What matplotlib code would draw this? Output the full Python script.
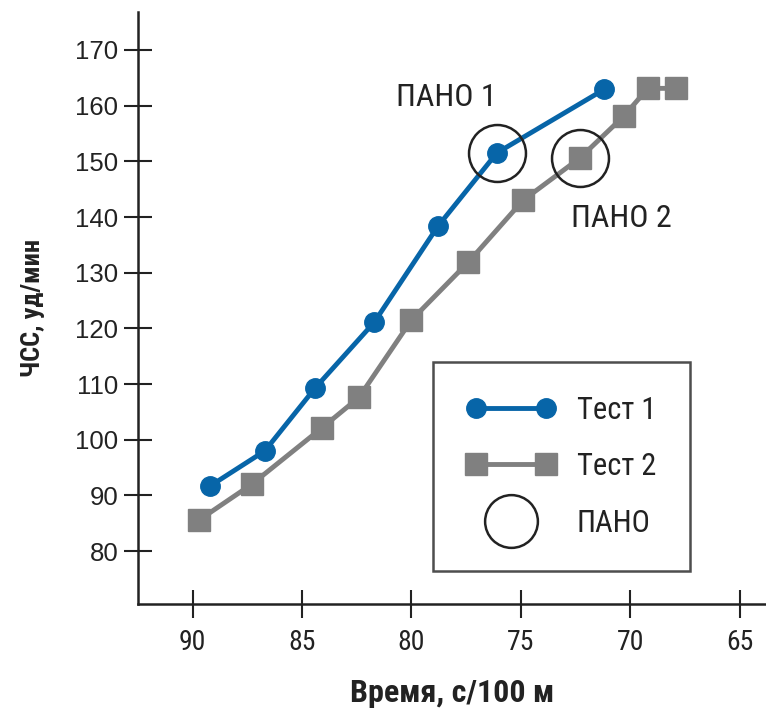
import matplotlib
matplotlib.use("Agg")
import matplotlib.pyplot as plt
from matplotlib.lines import Line2D
from matplotlib.legend_handler import HandlerLine2D
from matplotlib import font_manager as fm

# Data
test1_x = [89.2, 86.7, 84.4, 81.7, 78.8, 76.1, 71.2]
test1_y = [91.7, 98.0, 109.3, 121.1, 138.3, 151.5, 162.9]
test2_x = [89.7, 87.3, 84.1, 82.4, 80.0, 77.4, 74.9, 72.3, 70.3, 69.2, 67.9]
test2_y = [85.6, 92.0, 102.1, 107.6, 121.5, 131.9, 143.0, 150.6, 158.1, 163.1, 163.1]
pano_x = [76.1, 72.3]
pano_y = [151.5, 150.6]
pano_labels = ["ПАНО 1", "ПАНО 2"]
legend_labels = ["Тест 1", "Тест 2", "ПАНО"]
xticks = [90, 85, 80, 75, 70, 65]
yticks = [80, 90, 100, 110, 120, 130, 140, 150, 160, 170]

BLUE = "#0765a8"
GRAY = "#808080"
DARK = "#222222"

installed = set(f.name for f in fm.fontManager.ttflist)
cands = ["Roboto Condensed", "PT Sans Narrow", "Liberation Sans Narrow", "Fira Sans Condensed",
         "IBM Plex Sans Condensed", "Open Sans Condensed", "Archivo Narrow", "Encode Sans Condensed",
         "Ubuntu Condensed", "Pragati Narrow", "Roboto"]
narrow = next((c for c in cands if c in installed), "DejaVu Sans")
NARROW = [narrow, "DejaVu Sans"]

fig = plt.figure(figsize=(7.66, 7.09), dpi=100)
ax = fig.add_axes([0.180, 0.148, 0.820, 0.835])

ax.plot(test2_x, test2_y, color=GRAY, lw=3.5, marker="s", ms=16, mec=GRAY, mfc=GRAY, zorder=3)
ax.plot(test1_x, test1_y, color=BLUE, lw=3.5, marker="o", ms=14, mec=BLUE, mfc=BLUE, zorder=4)
ax.plot(pano_x, pano_y, ls="none", marker="o", ms=41, mfc="none", mec=DARK, mew=1.8, zorder=5)

ax.text(78.4, 161.5, pano_labels[0], fontsize=23, family=NARROW, color=DARK,
        ha="center", va="center")
ax.text(70.4, 139.8, pano_labels[1], fontsize=23, family=NARROW, color=DARK,
        ha="center", va="center")

ax.set_xlim(92.5, 63.8)
ax.set_ylim(70.5, 176.8)
ax.set_xticks(xticks)
ax.set_yticks(yticks)
ax.set_xticklabels([str(t) for t in xticks], family=NARROW, fontsize=20, color=DARK)
ax.set_yticklabels([str(t) for t in yticks], family=["Liberation Sans", "DejaVu Sans"], fontsize=18.5, color=DARK)
ax.tick_params(axis="both", direction="inout", length=20, width=1.5, color=DARK)
ax.tick_params(axis="x", pad=8)
ax.tick_params(axis="y", pad=4)

for s in ["top", "right"]:
    ax.spines[s].set_visible(False)
for s in ["left", "bottom"]:
    ax.spines[s].set_linewidth(1.8)
    ax.spines[s].set_color(DARK)

ax.set_xlabel("Время, с/100 м", family=NARROW, fontsize=23, fontweight="bold", labelpad=16, color=DARK)
ax.set_ylabel("ЧСС, уд/мин", family=NARROW, fontsize=19, fontweight="bold", labelpad=22, color=DARK)

handles = [
    Line2D([], [], color=BLUE, lw=3.5, marker="o", ms=14, mec=BLUE, mfc=BLUE),
    Line2D([], [], color=GRAY, lw=3.5, marker="s", ms=16, mec=GRAY, mfc=GRAY),
    Line2D([], [], ls="none", marker="o", ms=38, mfc="none", mec=DARK, mew=1.8),
]
leg = fig.legend(handles, legend_labels, loc="upper left",
                 bbox_to_anchor=(433 / 766, 1 - 362 / 709), bbox_transform=fig.transFigure,
                 prop={"family": NARROW, "size": 22}, frameon=True, fancybox=False,
                 edgecolor=DARK, handlelength=2.9, handletextpad=0.7,
                 labelspacing=0.9, borderpad=1.1, numpoints=2, borderaxespad=0,
                 handler_map={handles[2]: HandlerLine2D(numpoints=1)})
leg.get_frame().set_linewidth(1.8)
for t in leg.get_texts():
    t.set_color(DARK)

fig.savefig("out.png", dpi=100)
